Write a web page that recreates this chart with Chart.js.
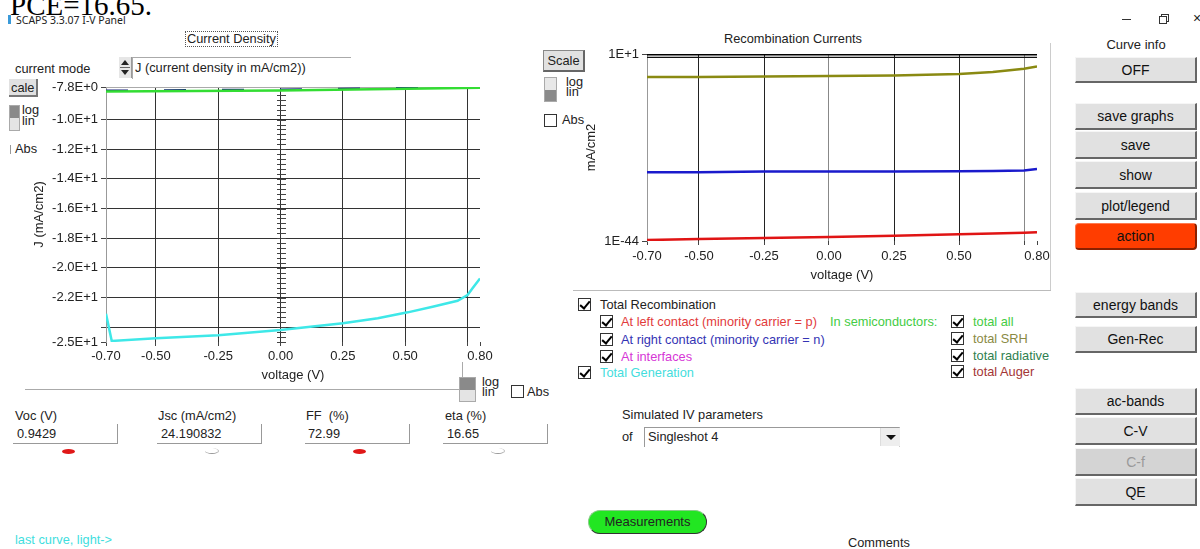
<!DOCTYPE html>
<html>
<head>
<meta charset="utf-8">
<script src="https://cdn.jsdelivr.net/npm/chart.js@4.4.0/dist/chart.umd.min.js"></script>
<style>
  body { margin: 0; width: 1200px; height: 549px; overflow: hidden; background: #fff; position: relative;
         font-family: 'Liberation Sans', Arial, sans-serif; font-size: 12.8px; color: #222; }
  .t { position: absolute; white-space: pre; line-height: 14px; }
  .btn { position: absolute; left: 1075px; width: 122px; box-sizing: border-box; background: #e1e1e1;
         border-top: 1px solid #f6f6f6; border-left: 1px solid #f6f6f6; border-right: 2px solid #666; border-bottom: 2px solid #666;
         text-align: center; font-size: 14px; color: #111; }
  .cb { position: absolute; width: 13px; height: 13px; box-sizing: border-box; border: 1px solid #333; background: #fff; }
  .cb.on::after { content: ''; position: absolute; left: 3px; top: 0px; width: 4px; height: 8px;
         border-right: 2px solid #000; border-bottom: 2px solid #000; transform: rotate(40deg); }
  .tog { position: absolute; width: 11px; box-sizing: border-box; border: 1px solid #aaa; }
  .tog div { height: 50%; }
  .box { position: absolute; height: 20px; width: 105px; box-sizing: border-box; border-right: 1px solid #999; border-bottom: 1px solid #999; }
  .eye { position: absolute; width: 13px; height: 5px; border-radius: 50%; }
  canvas { position: absolute; }
</style>
</head>
<body>

<div class="t" style="left:10px; top:-10px; font-family:'Liberation Serif', serif; font-size:29px; line-height:30px; color:#000;">PCE=16.65.</div>
<div style="position:absolute; left:8px; top:15px; width:3px; height:9px; background:#3a9ad9;"></div>
<div class="t" style="left:16px; top:13px; font-family:'Noto Sans', sans-serif; font-size:10.5px;">SCAPS 3.3.07 I-V Panel</div>
<div style="position:absolute; left:1122px; top:19px; width:9px; height:1px; background:#333;"></div>
<div style="position:absolute; left:1161px; top:14px; width:6px; height:6px; border:1px solid #333;"></div>
<div style="position:absolute; left:1159px; top:16px; width:6px; height:6px; border:1px solid #333; background:#fff;"></div>
<div class="t" style="left:1193px; top:11px; font-size:14px;">×</div>

<!-- left panel controls -->
<div class="t" style="left:185px; top:31px; border:1px dotted #555; padding:0 1px;">Current Density</div>
<div class="t" style="left:15px; top:62px;">current mode</div>
<div style="position:absolute; left:119px; top:57px; width:12px; height:21px; background:#e6e6e6; border-right:1px solid #999;">
  <div style="position:absolute; left:2px; top:3px; border-left:4px solid transparent; border-right:4px solid transparent; border-bottom:5px solid #222;"></div>
  <div style="position:absolute; left:1px; top:10px; width:10px; height:1px; background:#666;"></div>
  <div style="position:absolute; left:2px; top:13px; border-left:4px solid transparent; border-right:4px solid transparent; border-top:5px solid #222;"></div>
</div>
<div style="position:absolute; left:132px; top:57px; width:218px; height:21px; border-top:1px solid #aaa; border-left:1px solid #aaa;"></div>
<div class="t" style="left:135px; top:61px;">J (current density in mA/cm2))</div>
<div class="t" style="left:9px; top:79px; width:29px; height:18px; line-height:18px; box-sizing:border-box; background:#e1e1e1; border-right:2px solid #777; border-bottom:2px solid #777; padding-left:2px;">cale</div>
<div class="tog" style="left:9px; top:105px; height:26px;"><div style="background:#8a8a8a;"></div><div style="background:#e4e4e4;"></div></div>
<div class="t" style="left:22px; top:104px; line-height:11px;">log<br>lin</div>
<div style="position:absolute; left:10px; top:145px; width:1px; height:9px; background:#999;"></div>
<div class="t" style="left:15px; top:142px;">Abs</div>

<div style="position:absolute; left:25px; top:389px; width:438px; height:1px; background:#aaa;"></div>
<div style="position:absolute; left:462px; top:362px; width:1px; height:27px; background:#aaa;"></div>
<div class="tog" style="left:459px; top:377px; width:17px; height:25px;"><div style="background:#8a8a8a;"></div><div style="background:#e4e4e4;"></div></div>
<div class="t" style="left:482px; top:377px; line-height:10px;">log<br>lin</div>
<div class="cb" style="left:511px; top:385px;"></div>
<div class="t" style="left:527px; top:385px;">Abs</div>

<!-- IV parameters -->
<div class="t" style="left:15px; top:409px;">Voc (V)</div>
<div class="box" style="left:13px; top:424px;"></div>
<div class="t" style="left:17px; top:427px;">0.9429</div>
<div class="t" style="left:158px; top:409px;">Jsc (mA/cm2)</div>
<div class="box" style="left:157px; top:424px;"></div>
<div class="t" style="left:161px; top:427px;">24.190832</div>
<div class="t" style="left:306px; top:409px;">FF  (%)</div>
<div class="box" style="left:305px; top:424px;"></div>
<div class="t" style="left:308px; top:427px;">72.99</div>
<div class="t" style="left:445px; top:409px;">eta (%)</div>
<div class="box" style="left:443px; top:424px;"></div>
<div class="t" style="left:447px; top:427px;">16.65</div>
<div class="eye" style="left:62px; top:449px; background:#e01818;"></div>
<div class="eye" style="left:205px; top:448px; border-bottom:1px solid #999; border-right:1px solid #bbb;"></div>
<div class="eye" style="left:353px; top:449px; background:#e01818;"></div>
<div class="eye" style="left:491px; top:448px; border-bottom:1px solid #999; border-right:1px solid #bbb;"></div>
<div class="t" style="left:15px; top:533px; color:#3fdede;">last curve, light-&gt;</div>

<!-- right panel controls -->
<div class="t" style="left:724px; top:32px;">Recombination Currents</div>
<div class="t" style="left:543px; top:50px; width:42px; height:22px; line-height:20px; box-sizing:border-box; text-align:center; background:#e1e1e1; border:1px solid #888; border-right:2px solid #666; border-bottom:2px solid #666;">Scale</div>
<div class="tog" style="left:544px; top:77px; width:13px; height:25px;"><div style="background:#e8e8e8;"></div><div style="background:#8a8a8a;"></div></div>
<div class="t" style="left:566px; top:77px; line-height:10px;">log<br>lin</div>
<div class="cb" style="left:544px; top:114px;"></div>
<div class="t" style="left:562px; top:113px;">Abs</div>
<div style="position:absolute; left:1050px; top:43px; width:1px; height:248px; background:#ccc;"></div>
<div style="position:absolute; left:573px; top:290px; width:478px; height:1px; background:#bbb;"></div>

<div class="cb on" style="left:578px; top:298px;"></div>
<div class="t" style="left:600px; top:298px;">Total Recombination</div>
<div class="cb on" style="left:600px; top:315px;"></div>
<div class="t" style="left:621px; top:315px; color:#e23b3b;">At left contact (minority carrier = p)</div>
<div class="cb on" style="left:600px; top:333px;"></div>
<div class="t" style="left:621px; top:333px; color:#3434b4;">At right contact (minority carrier = n)</div>
<div class="cb on" style="left:600px; top:350px;"></div>
<div class="t" style="left:621px; top:350px; color:#d637d6;">At interfaces</div>
<div class="cb on" style="left:578px; top:366px;"></div>
<div class="t" style="left:600px; top:366px; color:#44dddd;">Total Generation</div>
<div class="t" style="left:830px; top:315px; color:#44cc44;">In semiconductors:</div>
<div class="cb on" style="left:951px; top:315px;"></div>
<div class="t" style="left:973px; top:315px; color:#44cc44;">total all</div>
<div class="cb on" style="left:951px; top:332px;"></div>
<div class="t" style="left:973px; top:332px; color:#8a8a44;">total SRH</div>
<div class="cb on" style="left:951px; top:349px;"></div>
<div class="t" style="left:973px; top:349px; color:#2f7f4f;">total radiative</div>
<div class="cb on" style="left:951px; top:365px;"></div>
<div class="t" style="left:973px; top:365px; color:#a33636;">total Auger</div>

<div class="t" style="left:622px; top:408px;">Simulated IV parameters</div>
<div class="t" style="left:622px; top:430px;">of</div>
<div style="position:absolute; left:644px; top:427px; width:256px; height:20px; box-sizing:border-box; border-top:1px solid #999; border-left:1px solid #999; border-right:1px solid #ccc;"></div>
<div style="position:absolute; left:880px; top:428px; width:19px; height:18px; background:#eee; border-left:1px solid #ddd;">
  <div style="position:absolute; left:5px; top:7px; border-left:5px solid transparent; border-right:5px solid transparent; border-top:5px solid #111;"></div>
</div>
<div class="t" style="left:648px; top:430px;">Singleshot 4</div>
<div class="t" style="left:588px; top:510px; width:119px; height:24px; line-height:22px; box-sizing:border-box; text-align:center; font-size:13px; background:#22e622; border-radius:12px; border:1px solid #333; border-top-color:#8c8; border-left-color:#8c8;">Measurements</div>
<div class="t" style="left:848px; top:536px;">Comments</div>

<!-- right button column -->
<div class="t" style="left:1075px; width:122px; top:38px; text-align:center; font-size:13px;">Curve info</div>
<div class="btn" style="top:57px; height:26px; line-height:24px;">OFF</div>
<div class="btn" style="top:103px; height:27px; line-height:25px;">save graphs</div>
<div class="btn" style="top:131px; height:28px; line-height:26px;">save</div>
<div class="btn" style="top:161px; height:28px; line-height:26px;">show</div>
<div class="btn" style="top:192px; height:28px; line-height:26px;">plot/legend</div>
<div class="btn" style="top:223px; height:27px; line-height:25px; background:#ff3d00; border-radius:4px; border-color:#ff7a50 #8a2000 #8a2000 #ff7a50;">action</div>
<div class="btn" style="top:292px; height:26px; line-height:24px;">energy bands</div>
<div class="btn" style="top:326px; height:27px; line-height:25px;">Gen-Rec</div>
<div class="btn" style="top:388px; height:27px; line-height:25px;">ac-bands</div>
<div class="btn" style="top:417px; height:28px; line-height:26px;">C-V</div>
<div class="btn" style="top:448px; height:28px; line-height:26px; background:#d4d4d4; color:#9a9a9a;">C-f</div>
<div class="btn" style="top:478px; height:28px; line-height:26px;">QE</div>

<canvas id="ivChart" width="470" height="306" style="left:26px; top:77px;"></canvas>
<canvas id="recChart" width="478" height="239" style="left:575px; top:44px;"></canvas>

<script>
// J-V panel
const vLight = [-0.70, -0.677, -0.50, -0.25, 0.00, 0.12, 0.25, 0.39, 0.51, 0.61, 0.71, 0.75, 0.77, 0.80];
const jLight = [-23.1, -24.93, -24.75, -24.55, -24.19, -23.97, -23.74, -23.40, -23.00, -22.62, -22.22, -21.83, -21.38, -20.71];
const vTop = [-0.70, 0.00, 0.80];
const jTotal = [-8.10, -8.03, -7.85];
const jDark = [-8.04, -7.97, -7.80];
const vTicks = [-0.70, -0.50, -0.25, 0.00, 0.25, 0.50, 0.75, 0.80];
const jTicks = [-25, -24, -22, -20, -18, -16, -14, -12, -10, -7.8];

// recombination panel
const vRec = [-0.70, -0.50, -0.25, 0.00, 0.25, 0.50, 0.63, 0.75, 0.80];
const recTotal = [8.5, 8.5, 8.5, 8.5, 8.6, 8.6, 8.6, 8.7, 8.7];
const recTotal2 = [1.6, 1.6, 1.6, 1.6, 1.6, 1.6, 1.6, 1.6, 1.6];
const recSRH = [2.8e-5, 2.8e-5, 4.1e-5, 4.9e-5, 7.1e-5, 1.5e-4, 4.6e-4, 2.9e-3, 1.05e-2];
const recRight = [3.5e-28, 3.5e-28, 5.1e-28, 5.1e-28, 5.1e-28, 6.3e-28, 7.0e-28, 8.9e-28, 2.2e-27];
const recLeft = [1.7e-44, 3.0e-44, 5.2e-44, 9.1e-44, 1.9e-43, 4.2e-43, 6.0e-43, 9.5e-43, 1.3e-42];
const recTicks = [1e-44, 1e1];

Chart.defaults.font.family = "'Liberation Sans', Arial, sans-serif";
Chart.defaults.font.size = 13;
Chart.defaults.color = '#222';

function pts(xs, ys) {
  return xs.map((x, i) => ({ x: x, y: ys[i] }));
}

function line(data, color, width, extra) {
  return Object.assign({ data: data, borderColor: color, borderWidth: width, pointRadius: 0, tension: 0, fill: false }, extra || {});
}

// gray frame on top of the plot and the tick ladder on V = 0
const frameTop = {
  id: 'frameTop',
  beforeDatasetsDraw(chart) {
    const { ctx, chartArea: a } = chart;
    ctx.save();
    ctx.strokeStyle = '#aaa';
    ctx.lineWidth = 1;
    ctx.beginPath();
    ctx.moveTo(a.left, a.top + 0.5);
    ctx.lineTo(a.right, a.top + 0.5);
    ctx.stroke();
    ctx.restore();
  }
};

const zeroLadder = {
  id: 'zeroLadder',
  beforeDatasetsDraw(chart) {
    const { ctx, scales: { x, y } } = chart;
    const px = Math.round(x.getPixelForValue(0));
    ctx.save();
    ctx.strokeStyle = '#444';
    ctx.lineWidth = 1;
    for (let k = 0; k < 51; k++) {
      const py = Math.round(y.getPixelForValue(-25 + k / 3)) + 0.5;
      ctx.beginPath();
      ctx.moveTo(px - 4, py);
      ctx.lineTo(px + 5, py);
      ctx.stroke();
    }
    ctx.restore();
  }
};

const edge = (c, lo, hi) => c.tick && (c.tick.value === lo || c.tick.value === hi);

new Chart(document.getElementById('ivChart'), {
  type: 'line',
  data: {
    datasets: [
      line(pts(vTop, jTotal), '#33dd33', 2.5),
      line(pts(vTop, jDark), '#1a237e', 2, { borderDash: [22, 36] }),
      line(pts(vLight, jLight), '#3ee8e8', 2.5)
    ]
  },
  options: {
    responsive: false,
    animation: false,
    layout: { padding: { top: 10, right: 16, bottom: 0, left: 0 } },
    plugins: { legend: { display: false }, tooltip: { enabled: false } },
    scales: {
      x: {
        type: 'linear', min: -0.7, max: 0.8,
        afterBuildTicks: s => { s.ticks = vTicks.map(v => ({ value: v })); },
        afterFit: s => { s.height = 41; s.paddingLeft = 0; s.paddingRight = 0; },
        ticks: { callback: v => v === 0.75 ? '' : v.toFixed(2), padding: 3, maxRotation: 0, autoSkip: false },
        grid: { color: c => edge(c, -0.7, 0.8) ? 'rgba(0,0,0,0)' : '#333', tickColor: '#444', tickLength: 4 },
        border: { display: false },
        title: { display: true, text: 'voltage (V)', padding: { top: 0, bottom: 0 } }
      },
      y: {
        min: -25, max: -7.8,
        afterBuildTicks: s => { s.ticks = jTicks.map(v => ({ value: v })); },
        afterFit: s => { s.width = 80; s.paddingTop = 0; s.paddingBottom = 0; },
        ticks: { callback: v => v === -24 ? '' : v.toExponential(1).replace('e', 'E'), padding: 3, autoSkip: false },
        grid: { color: c => edge(c, -25, -7.8) ? 'rgba(0,0,0,0)' : '#333', tickColor: '#444', tickLength: 5 },
        border: { color: '#999' },
        title: { display: true, text: 'J (mA/cm2)', padding: { top: 6, bottom: 0 } }
      }
    }
  },
  plugins: [frameTop, zeroLadder]
});

new Chart(document.getElementById('recChart'), {
  type: 'line',
  data: {
    datasets: [
      line(pts(vRec, recTotal), '#000', 2.5),
      line(pts(vRec, recTotal2), '#111', 1.2),
      line(pts(vRec, recSRH), '#8a8a12', 2.5),
      line(pts(vRec, recRight), '#1a1acc', 2.5),
      line(pts(vRec, recLeft), '#e01414', 2.5)
    ]
  },
  options: {
    responsive: false,
    animation: false,
    layout: { padding: { top: 10, right: 16, bottom: 0, left: 0 } },
    plugins: { legend: { display: false }, tooltip: { enabled: false } },
    scales: {
      x: {
        type: 'linear', min: -0.7, max: 0.8,
        afterBuildTicks: s => { s.ticks = vTicks.map(v => ({ value: v })); },
        afterFit: s => { s.height = 42; s.paddingLeft = 0; s.paddingRight = 0; },
        ticks: { callback: v => v === 0.75 ? '' : v.toFixed(2), padding: 4, maxRotation: 0, autoSkip: false },
        grid: {
          color: c => edge(c, -0.7, 0.8) ? 'rgba(0,0,0,0)' : (c.tick.value === 0 || c.tick.value === 0.75 ? '#888' : '#222'),
          tickColor: '#444', tickLength: 4
        },
        border: { display: false },
        title: { display: true, text: 'voltage (V)', padding: { top: 0, bottom: 0 } }
      },
      y: {
        type: 'logarithmic', min: 1e-44, max: 10,
        afterBuildTicks: s => { s.ticks = recTicks.map(v => ({ value: v })); },
        afterFit: s => { s.width = 72; s.paddingTop = 0; s.paddingBottom = 0; },
        ticks: { callback: v => Number(v).toExponential(0).toUpperCase(), padding: 3, autoSkip: false },
        grid: { drawOnChartArea: false, tickColor: '#444', tickLength: 5 },
        border: { color: '#999' },
        title: { display: true, text: 'mA/cm2', padding: { top: 9, bottom: 0 } }
      }
    }
  }
});
</script>
</body>
</html>
